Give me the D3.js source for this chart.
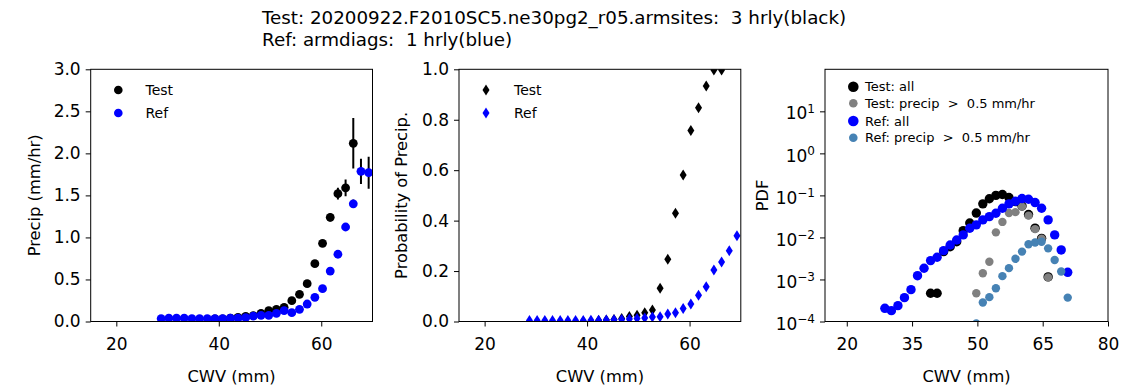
<!DOCTYPE html>
<html>
<head>
<meta charset="utf-8">
<script src="https://cdn.jsdelivr.net/npm/d3@7"></script>
<style>
body { margin: 0; background: #fff; }
svg text { font-family: "DejaVu Sans", sans-serif; fill: #000; }
</style>
</head>
<body>
<div id="chart"></div>
<script>
// CWV bin centres (mm)
var cwv = [28.75, 30.25, 31.75, 33.25, 34.75, 36.25, 37.75, 39.25, 40.75, 42.25,
           43.75, 45.25, 46.75, 48.25, 49.75, 51.25, 52.75, 54.25, 55.75, 57.25,
           58.75, 60.25, 61.75, 63.25, 64.75, 66.25, 67.75, 69.25, 70.75];

// mean precip (mm/hr) and error
var testPrecip = [null, null, null, null, null, null, null, 0.03, 0.03, 0.04,
                  0.05, 0.06, 0.07, 0.097, 0.129, 0.145, 0.169, 0.248, 0.323, 0.45,
                  0.688, 0.93, 1.239, 1.52, 1.59, 2.12, null, null, null];
var testErr = [0, 0, 0, 0, 0, 0, 0, 0.01, 0.01, 0.01,
               0.01, 0.01, 0.01, 0.01, 0.01, 0.01, 0.015, 0.02, 0.02, 0.03,
               0.03, 0.04, 0.05, 0.07, 0.1, 0.3, 0, 0, 0];
var refPrecip = [0.035, 0.04, 0.04, 0.04, 0.035, 0.035, 0.035, 0.035, 0.035, 0.04,
                 0.04, 0.045, 0.065, 0.073, 0.073, 0.097, 0.129, 0.105, 0.145, 0.208,
                 0.287, 0.39, 0.60, 0.80, 1.124, 1.40, 1.786, 1.77, 1.09];
var refErr = [0.003, 0.003, 0.003, 0.003, 0.003, 0.003, 0.003, 0.003, 0.003, 0.003,
              0.003, 0.003, 0.004, 0.004, 0.004, 0.005, 0.005, 0.005, 0.006, 0.008,
              0.01, 0.012, 0.015, 0.02, 0.03, 0.05, 0.15, 0.19, 0.2];

// probability of precip
var testProb = [null, null, null, null, null, null, null, 0.0, 0.0, 0.004,
                0.006, 0.008, 0.012, 0.02, 0.025, 0.035, 0.046, 0.1315, 0.2465, 0.429,
                0.581, 0.757, 0.848, 0.934, 0.997, 0.997, null, null, null];
var refProb = [0.004, 0.004, 0.004, 0.004, 0.004, 0.004, 0.004, 0.004, 0.005, 0.005,
               0.006, 0.007, 0.008, 0.01, 0.012, 0.014, 0.018, 0.019, 0.030, 0.035,
               0.052, 0.069, 0.104, 0.138, 0.204, 0.236, 0.281, 0.340, null];

// PDFs
var testPdf = [null, null, null, null, null, null, null, 4.7e-4, 4.7e-4, 4.6e-3,
               6.0e-3, 7.9e-3, 1.45e-2, 2.2e-2, 3.8e-2, 6.3e-2, 8.3e-2, 0.100, 0.105, 0.089,
               0.071, 0.056, 0.035, 0.0166, 0.0095, 0.00115, null, null, null];
var testPdfRain = [null, null, null, null, null, null, null, null, null, null,
                   null, null, null, null, 4.7e-4, 1.41e-3, 2.63e-3, 1.32e-2, 2.34e-2, 3.8e-2,
                   4.0e-2, 5.4e-2, 3.3e-2, 1.58e-2, 9.3e-3, 1.12e-3, null, null, null];
var refPdf = [2.06e-4, 1.81e-4, 2.38e-4, 3.69e-4, 5.73e-4, 1.23e-3, 1.85e-3, 2.81e-3, 3.37e-3, 4.86e-3,
              6.62e-3, 8.71e-3, 1.15e-2, 1.65e-2, 1.99e-2, 2.61e-2, 3.13e-2, 3.76e-2, 4.94e-2, 6.28e-2,
              7.26e-2, 8.41e-2, 8.11e-2, 6.75e-2, 4.94e-2, 2.61e-2, 1.15e-2, 5.04e-3, 1.48e-3];
var refPdfRain = [null, null, null, null, null, null, null, null, null, null,
                  null, null, null, null, 9e-5, 2.82e-4, 3.8e-4, 6.2e-4, 1.2e-3, 1.86e-3,
                  3.1e-3, 4.6e-3, 6.9e-3, 7.6e-3, 7.9e-3, 5.5e-3, 2.9e-3, 1.55e-3, 3.7e-4];

var precipTicks = [0, 0.5, 1.0, 1.5, 2.0, 2.5, 3.0];
var probTicks = [0, 0.2, 0.4, 0.6, 0.8, 1.0];
var pdfTicks = [1e-4, 1e-3, 1e-2, 1e-1, 1e0, 1e1];
var cwvTicks = [20, 40, 60];
var cwvTicksPdf = [20, 35, 50, 65, 80];

var svg = d3.select("#chart").append("svg")
    .attr("width", 1135)
    .attr("height", 385);

var yTop = 69.3, yBot = 321.5;

// title
var title = svg.append("text")
    .attr("x", 262)
    .attr("y", 24)
    .style("font-size", "18.3px")
    .style("white-space", "pre");
title.append("tspan").attr("x", 262).text("Test: 20200922.F2010SC5.ne30pg2_r05.armsites:  3 hrly(black)");
title.append("tspan").attr("x", 262).attr("dy", 22).text("Ref: armdiags:  1 hrly(blue)");

function makePanel(id, x0, x1, xDomain, yScale, xTicks, yTicks, yFmt, yLabel, yLabelX) {
    var x = d3.scaleLinear().domain(xDomain).range([x0, x1]);
    var g = svg.append("g");

    svg.append("clipPath").attr("id", id)
        .append("rect")
        .attr("x", x0).attr("y", yTop)
        .attr("width", x1 - x0).attr("height", yBot - yTop);

    var xAxis = g.append("g")
        .attr("transform", "translate(0," + yBot + ")")
        .call(d3.axisBottom(x).tickValues(xTicks).tickSize(5).tickSizeOuter(0).tickPadding(11.5)
            .tickFormat(d3.format("d")));
    var yAxis = g.append("g")
        .attr("transform", "translate(" + x0 + ",0)")
        .call(d3.axisLeft(yScale).tickValues(yTicks).tickSize(5).tickSizeOuter(0).tickPadding(5)
            .tickFormat(yFmt));
    g.selectAll(".domain").remove();
    g.selectAll(".tick line").attr("stroke", "#000").attr("stroke-width", 1);
    g.selectAll(".tick text").style("font-size", "17px").attr("font-family", null);

    g.append("text")
        .attr("x", (x0 + x1) / 2)
        .attr("y", 382)
        .attr("text-anchor", "middle")
        .style("font-size", "16.3px")
        .text("CWV (mm)");

    g.append("text")
        .attr("transform", "translate(" + yLabelX + "," + ((yTop + yBot) / 2) + ") rotate(-90)")
        .attr("text-anchor", "middle")
        .style("font-size", "16.3px")
        .text(yLabel);

    var plot = svg.append("g").attr("clip-path", "url(#" + id + ")");

    svg.append("rect")
        .attr("x", x0).attr("y", yTop)
        .attr("width", x1 - x0).attr("height", yBot - yTop)
        .attr("fill", "none")
        .attr("stroke", "#000")
        .attr("stroke-width", 1);

    return { x: x, y: yScale, plot: plot, axisY: yAxis };
}

function pairs(vals, errs) {
    return cwv.map(function (c, i) {
        return { c: c, v: vals[i], e: errs ? errs[i] : 0 };
    }).filter(function (d) { return d.v != null; });
}

// ---- panel 1: precip ----
var y1 = d3.scaleLinear().domain([0, 3]).range([yBot, yTop]);
var p1 = makePanel("clip1", 90.7, 372.5, [15, 70], y1, cwvTicks, precipTicks, d3.format(".1f"), "Precip (mm/hr)", 40);

function errDots(p, data, color) {
    p.plot.selectAll(null)
        .data(data)
        .enter().append("line")
        .attr("x1", function (d) { return p.x(d.c); })
        .attr("x2", function (d) { return p.x(d.c); })
        .attr("y1", function (d) { return p.y(d.v - d.e); })
        .attr("y2", function (d) { return p.y(d.v + d.e); })
        .attr("stroke", "#000")
        .attr("stroke-width", 2);
    p.plot.selectAll(null)
        .data(data)
        .enter().append("circle")
        .attr("cx", function (d) { return p.x(d.c); })
        .attr("cy", function (d) { return p.y(d.v); })
        .attr("r", 4.4)
        .attr("fill", color);
}
errDots(p1, pairs(testPrecip, testErr), "#000");
errDots(p1, pairs(refPrecip, refErr), "#0000ff");

// ---- panel 2: probability ----
var y2 = d3.scaleLinear().domain([0, 1]).range([yBot, yTop]);
var p2 = makePanel("clip2", 459, 740.8, [15, 70], y2, cwvTicks, probTicks, d3.format(".1f"), "Probability of Precip.", 407);

var diamond = "M0,-5.5L3.5,0L0,5.5L-3.5,0Z";
function diamonds(p, data, color) {
    p.plot.selectAll(null)
        .data(data)
        .enter().append("path")
        .attr("d", diamond)
        .attr("transform", function (d) { return "translate(" + p.x(d.c) + "," + p.y(d.v) + ")"; })
        .attr("fill", color);
}
diamonds(p2, pairs(testProb), "#000");
diamonds(p2, pairs(refProb), "#0000ff");

// ---- panel 3: PDF ----
var y3 = d3.scaleLog().domain([1e-4, 1e2]).range([yBot, yTop]);
var p3 = makePanel("clip3", 825, 1108, [15, 80], y3, cwvTicksPdf, pdfTicks, function () { return ""; }, "PDF", 768);

p3.axisY.selectAll(".tick text").each(function (d) {
    var t = d3.select(this);
    var ex = Math.round(Math.log10(d));
    t.text(null).attr("dy", "0.45em");
    t.append("tspan").text("10");
    t.append("tspan").attr("dy", "-0.55em").style("font-size", "12px")
        .text(ex < 0 ? "\u2212" + (-ex) : String(ex));
});

function dots(p, data, color, r) {
    p.plot.selectAll(null)
        .data(data)
        .enter().append("circle")
        .attr("cx", function (d) { return p.x(d.c); })
        .attr("cy", function (d) { return p.y(d.v); })
        .attr("r", r)
        .attr("fill", color);
}
dots(p3, pairs(testPdf), "#000", 4.7);
dots(p3, pairs(testPdfRain), "#808080", 4.2);
dots(p3, pairs(refPdf), "#0000ff", 4.7);
dots(p3, pairs(refPdfRain), "#4682b4", 4.2);

// ---- legends ----
var leg1 = [{ name: "Test", color: "#000", y: 90 }, { name: "Ref", color: "#0000ff", y: 113 }];
leg1.forEach(function (d) {
    svg.append("circle").attr("cx", 118.3).attr("cy", d.y).attr("r", 4.3).attr("fill", d.color);
    svg.append("text").attr("x", 145.5).attr("y", d.y + 5).style("font-size", "14px").text(d.name);
});

leg1.forEach(function (d) {
    svg.append("path").attr("d", diamond)
        .attr("transform", "translate(486," + d.y + ")").attr("fill", d.color);
    svg.append("text").attr("x", 514).attr("y", d.y + 5).style("font-size", "14px").text(d.name);
});

var leg3 = [
    { name: "Test: all", color: "#000", r: 5.3, y: 86.7 },
    { name: "Test: precip  >  0.5 mm/hr", color: "#808080", r: 4.3, y: 103.3 },
    { name: "Ref: all", color: "#0000ff", r: 5.3, y: 121 },
    { name: "Ref: precip  >  0.5 mm/hr", color: "#4682b4", r: 4.3, y: 137.7 }
];
leg3.forEach(function (d) {
    svg.append("circle").attr("cx", 853.3).attr("cy", d.y).attr("r", d.r).attr("fill", d.color);
    svg.append("text").attr("x", 865).attr("y", d.y + 4.5)
        .style("font-size", "13px").style("white-space", "pre").text(d.name);
});
</script>
</body>
</html>
